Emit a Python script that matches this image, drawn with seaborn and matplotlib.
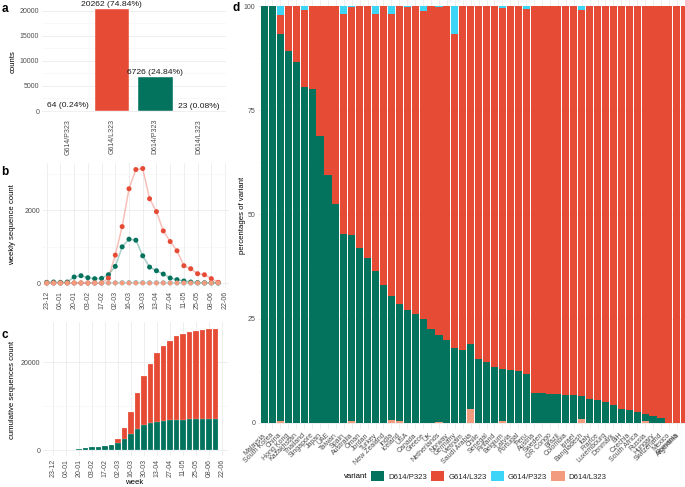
import numpy as np
import pandas as pd
import matplotlib
matplotlib.use("Agg")
import matplotlib.pyplot as plt
import matplotlib.transforms as mtransforms
import seaborn as sns
from matplotlib.patches import Patch

# ---------------- data ----------------
variants = ["D614/P323", "G614/L323", "G614/P323", "D614/L323"]
variant_colors = ["#03735E", "#E64B35", "#3DD5F7", "#F39B7F"]

# panel a
a_variants = ["G614/P323", "G614/L323", "D614/P323", "D614/L323"]
a_counts = [64, 20262, 6726, 23]
a_labels = ["64 (0.24%)", "20262 (74.84%)", "6726 (24.84%)", "23 (0.08%)"]

# panels b, c
weeks = ["23-12", "30-12", "06-01", "13-01", "20-01", "27-01", "03-02", "10-02",
         "17-02", "24-02", "02-03", "09-03", "16-03", "23-03", "30-03", "06-04",
         "13-04", "20-04", "27-04", "04-05", "11-05", "18-05", "25-05", "01-06",
         "08-06", "15-06", "22-06"]
wk_D614_P323 = [18, 27, 18, 27, 164, 200, 145, 118, 127, 227, 455, 991, 1200, 1173,
                745, 436, 336, 245, 136, 91, 55, 27, 10, 5, 5, 2]
wk_G614_L323 = [0, 0, 0, 0, 0, 0, 0, 0, 0, 136, 764, 1545, 2582, 3109, 3136, 2309,
                1955, 1427, 1136, 882, 473, 391, 255, 227, 118, 18]
wk_G614_P323 = [0, 0, 0, 0, 0, 0, 0, 0, 0, 1, 3, 6, 9, 10, 8, 7, 6, 5, 3, 2, 2, 1,
                1, 0, 0, 0]
wk_D614_L323 = [0, 0, 0, 0, 1, 1, 1, 1, 1, 2, 2, 3, 3, 2, 2, 1, 1, 1, 0, 1, 0, 0,
                0, 0, 0, 0]

# panel d
countries = ["Malaysia", "South Korea", "China", "Hong Kong", "Kazakhstan", "Thailand",
             "Singapore", "Japan", "UAE", "Taiwan", "Spain", "Australia", "Oman",
             "Jordan", "Turkey", "New Zealand", "India", "Iceland", "USA", "Canada",
             "Greece", "UK", "Netherlands", "Norway", "Germany", "Vietnam",
             "Saudi Arabia", "Chile", "Senegal", "Finland", "Belgium", "Latvia",
             "Portugal", "Peru", "Austria", "Sweden", "DR Congo", "Brazil", "Colombia",
             "Israel", "Bangladesh", "Italy", "France", "Luxembourg", "Denmark", "BiH",
             "Czechia", "South Africa", "Russia", "Hungary", "Switzerland", "Mexico",
             "Romania", "Argentina"]
pct_D614_P323 = [100, 100, 93.1, 89.1, 86.5, 80.6, 80.0, 68.7, 59.4, 52.5, 45.2, 44.7,
                 42.0, 39.5, 36.5, 33.0, 29.8, 28.2, 27.0, 26.0, 25.0, 22.5, 20.75, 19.8,
                 18.0, 17.5, 15.7, 15.3, 14.5, 13.3, 12.7, 12.6, 12.5, 11.8, 7.2, 7.2,
                 7.0, 6.8, 6.7, 6.6, 5.5, 5.6, 5.4, 5.0, 4.2, 3.4, 3.0, 2.6, 1.8, 1.7,
                 1.2, 0, 0, 0]
pct_G614_L323 = [0, 0, 4.4, 10.9, 13.5, 18.4, 20.0, 31.3, 40.6, 47.5, 52.8, 54.7, 58.0,
                 60.5, 61.5, 67.0, 67.5, 71.5, 72.8, 74.0, 73.9, 77.5, 78.8, 80.2, 75.4,
                 82.5, 81.0, 84.7, 85.5, 86.7, 86.6, 87.4, 87.5, 87.4, 92.8, 92.8, 93.0,
                 93.2, 93.3, 93.4, 92.5, 94.4, 94.6, 95.0, 95.8, 96.6, 97.0, 97.4, 97.8,
                 98.3, 98.8, 100, 100, 100]
pct_G614_P323 = [0, 0, 2.2, 0, 0, 1.0, 0, 0, 0, 0, 2.0, 0.3, 0, 0, 2.0, 0, 2.0, 0, 0.2,
                 0, 1.1, 0, 0.2, 0, 6.6, 0, 0, 0, 0, 0, 0.4, 0, 0, 0.8, 0, 0, 0, 0, 0,
                 0, 1.0, 0, 0, 0, 0, 0, 0, 0, 0, 0, 0, 0, 0, 0]
pct_D614_L323 = [0, 0, 0.3, 0, 0, 0, 0, 0, 0, 0, 0, 0.3, 0, 0, 0, 0, 0.7, 0.3, 0, 0, 0,
                 0, 0.25, 0, 0, 0, 3.3, 0, 0, 0, 0.3, 0, 0, 0, 0, 0, 0, 0, 0, 0, 1.0, 0,
                 0, 0, 0, 0, 0, 0, 0.4, 0, 0, 0, 0, 0]

# ---------------- style ----------------
sns.set_theme(style="white")
plt.rcParams["font.family"] = ["Liberation Sans", "DejaVu Sans"]
cmap = dict(zip(variants, variant_colors))
GRID = "#EBEBEB"
TICKC = "#4D4D4D"
TICK_FS = 5.0
TITLE_FS = 5.6

W, H = 685, 487
fig = plt.figure(figsize=(W / 100, H / 100), dpi=100)
fig.patch.set_facecolor("white")


def add_ax(l, t, r, b):
    return fig.add_axes([l / W, 1 - b / H, (r - l) / W, (b - t) / H])


def style(ax, xgrid=False):
    for s in ax.spines.values():
        s.set_visible(False)
    ax.set_axisbelow(True)
    ax.tick_params(length=0, labelsize=TICK_FS, labelcolor=TICKC, pad=2)
    ax.grid(axis="y", which="major", color=GRID, lw=0.6)
    ax.grid(axis="y", which="minor", color="#F4F4F4", lw=0.4)
    if xgrid:
        ax.grid(axis="x", which="major", color=GRID, lw=0.6)
    ax.set_xlabel("")
    ax.set_ylabel("")


# ---------------- panel a ----------------
axa = add_ax(42, 0, 226, 116)
dfa = pd.DataFrame({"variant": a_variants, "count": a_counts})
sns.barplot(data=dfa, x="variant", y="count", hue="variant", order=a_variants,
            palette=cmap, saturation=1, width=0.79, legend=False, ax=axa,
            edgecolor="white", linewidth=0.3)
style(axa)
axa.set_ylim(-997, 22134)
axa.set_xlim(-0.6, 3.62)
axa.set_yticks([0, 5000, 10000, 15000, 20000])
axa.set_yticks([2500, 7500, 12500, 17500], minor=True)
axa.tick_params(axis="y", which="minor", length=0)
axa.set_xticks(range(4))
axa.set_xticklabels(a_variants, rotation=90, va="top", ha="center")
for i, (c, lab) in enumerate(zip(a_counts, a_labels)):
    axa.text(i, c + 250, lab, ha="center", va="bottom", fontsize=6.1, color="#1A1A1A")

# ---------------- panel b ----------------
axb = add_ax(43, 163, 229, 288)
idx = np.arange(len(wk_D614_P323))
dfb = pd.concat([
    pd.DataFrame({"week": idx, "count": wk_G614_P323, "variant": "G614/P323"}),
    pd.DataFrame({"week": idx, "count": wk_D614_P323, "variant": "D614/P323"}),
    pd.DataFrame({"week": idx, "count": wk_G614_L323, "variant": "G614/L323"}),
    pd.DataFrame({"week": idx, "count": wk_D614_L323, "variant": "D614/L323"}),
])
order_b = ["G614/P323", "D614/P323", "G614/L323", "D614/L323"]
sns.lineplot(data=dfb, x="week", y="count", hue="variant", hue_order=order_b,
             palette=cmap, alpha=0.35, lw=1.1, legend=False, ax=axb)
sns.scatterplot(data=dfb, x="week", y="count", hue="variant", hue_order=order_b,
                palette=cmap, s=13, linewidth=0, legend=False, ax=axb, zorder=3)
style(axb, xgrid=True)
axb.set_ylim(-137, 3288)
axb.set_xlim(-0.54, 26.58)
axb.set_yticks([0, 2000])
axb.set_yticks([1000, 3000], minor=True)
axb.tick_params(axis="y", which="minor", length=0)
axb.set_xticks(range(0, 27, 2))
axb.set_xticklabels(weeks[::2], rotation=90, va="top", ha="center")

# ---------------- panel c ----------------
axc = add_ax(43, 322, 228, 456)
cumG = np.cumsum(wk_D614_P323)
cumR = np.cumsum(wk_G614_L323)
cumC = np.cumsum(wk_G614_P323)
cumP = np.cumsum(wk_D614_L323)
wk_lab = weeks[:len(cumG)]
sns.barplot(x=wk_lab, y=cumG + cumR + cumC + cumP, order=weeks, color=cmap["G614/L323"],
            saturation=1, width=0.86, errorbar=None, ax=axc,
            edgecolor=(1, 1, 1, 0.5), linewidth=0.3)
sns.barplot(x=wk_lab, y=cumG, order=weeks, color=cmap["D614/P323"], saturation=1,
            width=0.86, errorbar=None, ax=axc, edgecolor=(1, 1, 1, 0.5), linewidth=0.3)
style(axc, xgrid=True)
axc.set_ylim(-1368, 29190)
axc.set_xlim(-1.54, 26.92)
axc.set_yticks([0, 20000])
axc.set_yticks([10000], minor=True)
axc.tick_params(axis="y", which="minor", length=0)
axc.set_xticks(range(0, 27, 2))
axc.set_xticklabels(weeks[::2], rotation=90, va="top", ha="center")

# ---------------- panel d ----------------
axd = add_ax(258, 0, 685, 429)
L1 = np.array(pct_D614_L323)
L2 = L1 + np.array(pct_D614_P323)
L3 = L2 + np.array(pct_G614_L323)
L4 = L3 + np.array(pct_G614_P323)
for vals, var in [(L4, "G614/P323"), (L3, "G614/L323"), (L2, "D614/P323"), (L1, "D614/L323")]:
    sns.barplot(x=countries, y=vals, order=countries, color=cmap[var], saturation=1,
                width=0.9, errorbar=None, ax=axd, linewidth=0)
style(axd, xgrid=True)
axd.set_ylim(-1.51, 101.44)
axd.set_xlim(-0.82, 53.03)
axd.set_yticks([0, 25, 50, 75, 100])
axd.set_yticks([12.5, 37.5, 62.5, 87.5], minor=True)
axd.tick_params(axis="y", which="minor", length=0)
axd.set_xticks(range(len(countries)))
axd.set_xticklabels(countries, rotation=45, ha="right", va="top",
                    rotation_mode="anchor")
labels_d = axd.get_xticklabels()
for i, t in enumerate(labels_d):
    dx = -8 if i == len(labels_d) - 1 else -2
    t.set_transform(t.get_transform()
                    + mtransforms.ScaledTranslation(dx / 100, 0, fig.dpi_scale_trans))

# ---------------- texts ----------------
fig.text(13 / W, 1 - 62 / H, "counts", rotation=90, ha="center", va="center",
         fontsize=TITLE_FS, color="black")
fig.text(13 / W, 1 - 225 / H, "weekly sequence count", rotation=90, ha="center",
         va="center", fontsize=TITLE_FS, color="black")
fig.text(13 / W, 1 - 390 / H, "cumulative sequences count", rotation=90, ha="center",
         va="center", fontsize=TITLE_FS, color="black")
fig.text(134 / W, 1 - 482 / H, "week", ha="center", va="center", fontsize=TITLE_FS,
         color="black")
fig.text(243 / W, 1 - 215 / H, "percentages of variant", rotation=90, ha="center",
         va="center", fontsize=TITLE_FS, color="black")

for lab, x, y in [("a", 5, 9), ("b", 5, 172), ("c", 5, 335), ("d", 236, 8)]:
    fig.text(x / W, 1 - y / H, lab, ha="center", va="center", fontsize=8.5,
             fontweight="bold", color="black")

# legend
fig.text(356 / W, 1 - 476 / H, "variant", ha="center", va="center", fontsize=TITLE_FS,
         color="black")
handles = [Patch(facecolor=cmap[v], edgecolor="none") for v in variants]
fig.legend(handles, variants, loc="center left", bbox_to_anchor=(371 / W, 1 - 476 / H),
           ncol=4, frameon=False, fontsize=TITLE_FS, handlelength=1.7,
           handleheight=1.7, handletextpad=0.5, columnspacing=0.55, borderpad=0,
           borderaxespad=0)

fig.savefig("out.png", dpi=100, facecolor="white")
